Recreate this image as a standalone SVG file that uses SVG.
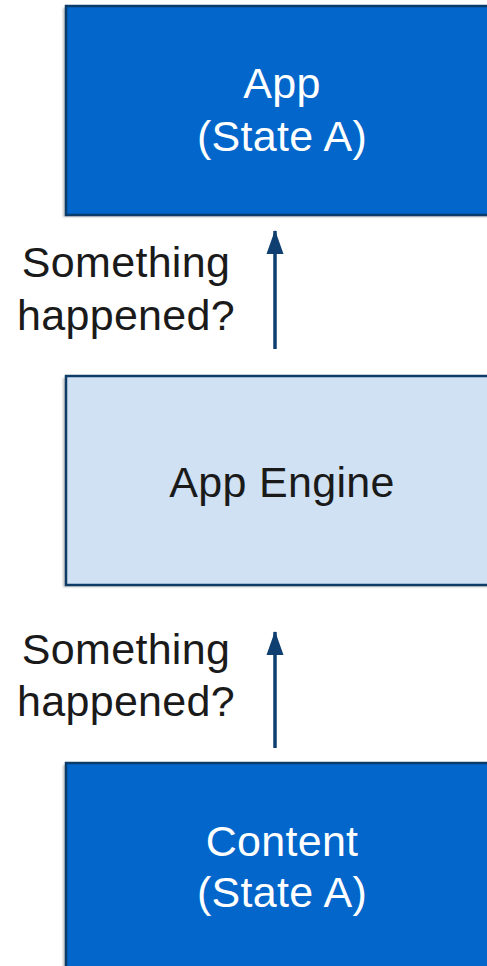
<svg xmlns="http://www.w3.org/2000/svg" width="487" height="966" viewBox="0 0 487 966">
  <style>
    .lbl { font-family: "Liberation Sans", Arial, sans-serif; font-size: 43px; text-anchor: middle; letter-spacing: 0.3px; }
    .light { fill: #ffffff; }
    .dark { fill: #1a1a1a; }
    .solid { fill: #0266cb; stroke: #0b3b69; stroke-width: 2.5; }
    .pale { fill: #cfe1f2; stroke: #0f3c66; stroke-width: 2.5; }
    .shadow { fill: #9a9a9a; opacity: 0.6; filter: url(#soft); }
    .wire { stroke: #0e3f70; stroke-width: 3.5; fill: none; marker-end: url(#tip); }
  </style>
  <defs>
    <filter id="soft" x="-10%" y="-10%" width="120%" height="120%">
      <feGaussianBlur stdDeviation="1"/>
    </filter>
    <marker id="tip" viewBox="0 0 24 18" refX="23" refY="9" markerWidth="24" markerHeight="18" markerUnits="userSpaceOnUse" orient="auto">
      <path d="M0,0.5 L24,9 L0,17.5 Z" fill="#0e3f70"/>
    </marker>
  </defs>

  <rect width="487" height="966" fill="#ffffff"/>

  <g id="connectors">
    <line class="wire" x1="275" y1="349" x2="275" y2="231"/>
    <line class="wire" x1="275" y1="748" x2="275" y2="632"/>
  </g>

  <g id="app">
    <rect class="shadow" x="63" y="8" width="440" height="209"/>
    <rect class="solid" x="66" y="6" width="440" height="209"/>
    <text class="lbl light" x="282" y="98">App</text>
    <text class="lbl light" x="282" y="151">(State A)</text>
  </g>

  <g id="label-upper">
    <text class="lbl dark" x="126" y="277">Something</text>
    <text class="lbl dark" x="126" y="330">happened?</text>
  </g>

  <g id="app-engine">
    <rect class="shadow" x="63" y="378" width="440" height="209"/>
    <rect class="pale" x="66" y="376" width="440" height="209"/>
    <text class="lbl dark" x="282" y="497">App Engine</text>
  </g>

  <g id="label-lower">
    <text class="lbl dark" x="126" y="664">Something</text>
    <text class="lbl dark" x="126" y="716">happened?</text>
  </g>

  <g id="content">
    <rect class="shadow" x="63" y="765" width="440" height="220"/>
    <rect class="solid" x="66" y="763" width="440" height="220"/>
    <text class="lbl light" x="282" y="856">Content</text>
    <text class="lbl light" x="282" y="907">(State A)</text>
  </g>
</svg>
